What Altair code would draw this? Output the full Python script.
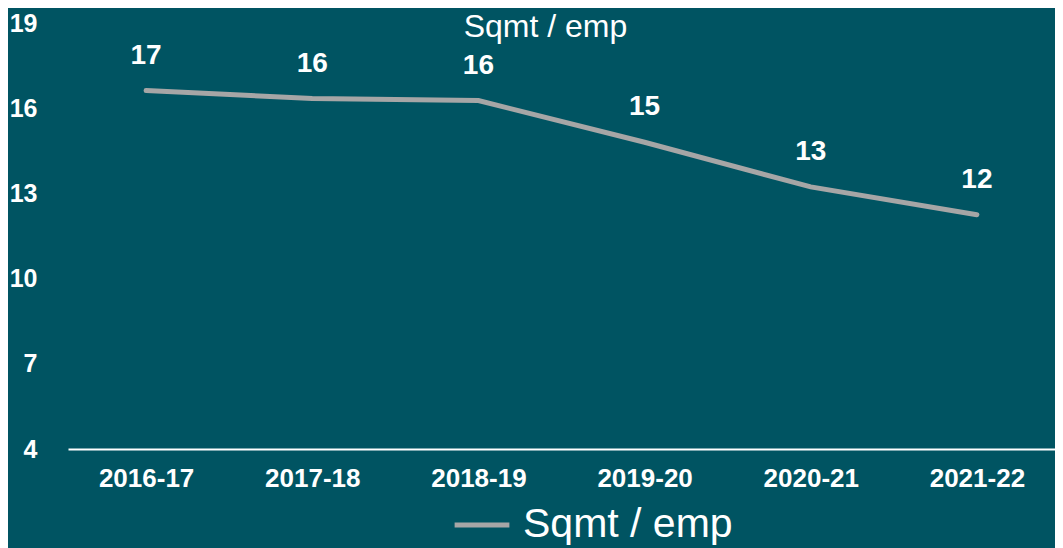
import altair as alt
import pandas as pd

years = ["2016-17", "2017-18", "2018-19", "2019-20", "2020-21", "2021-22"]
values = [16.62, 16.34, 16.27, 14.80, 13.23, 12.25]
series_name = "Sqmt / emp"
y_ticks = [4, 7, 10, 13, 16, 19]

df = pd.DataFrame({"year": years, "value": values, "series": [series_name] * len(years)})

BG = "#005462"
FONT = "Liberation Sans"

x_enc = alt.X("year:N", sort=years, title=None, scale=alt.Scale(padding=0.47),
              axis=alt.Axis(labelAngle=0, labelFontSize=26, labelFontWeight="bold",
                            labelColor="white", labelFont=FONT, ticks=False,
                            domainColor="white", domainWidth=2, labelPadding=16))
y_enc = alt.Y("value:Q", title=None,
              scale=alt.Scale(domain=[4, 19], nice=False, zero=False),
              axis=alt.Axis(values=y_ticks, grid=False, domain=False, ticks=False,
                            labelFontSize=25, labelFontWeight="bold", labelColor="white",
                            labelFont=FONT, labelPadding=31))

line = alt.Chart(df).mark_line(strokeWidth=5, strokeCap="round").encode(
    x=x_enc, y=y_enc,
    color=alt.Color("series:N", scale=alt.Scale(range=["#a6a6a6"]),
                    legend=alt.Legend(title=None, orient="none", legendX=384, legendY=472,
                                      symbolType="stroke", symbolSize=3000,
                                      symbolStrokeWidth=5, labelFontSize=41,
                                      labelLimit=0, labelColor="white", labelFont=FONT,
                                      labelOffset=11))
)

labels = alt.Chart(df).mark_text(dy=-35, fontSize=28, fontWeight="bold", color="white",
                                 font=FONT).encode(
    x=alt.X("year:N", sort=years), y="value:Q", text=alt.Text("value:Q", format=".0f"))

chart = alt.layer(line, labels).properties(
    width=987, height=426,
    title=alt.TitleParams(series_name, fontSize=32, fontWeight="normal", color="white",
                          font=FONT, anchor="middle", frame="group", offset=-33, dx=-16),
    autosize=alt.AutoSizeParams(type="none"),
    padding={"left": 60, "top": 15, "right": 0, "bottom": 99},
).configure(background=BG).configure_view(stroke=None)

chart.save("out.html", embed_options={"renderer": "svg", "actions": False})
